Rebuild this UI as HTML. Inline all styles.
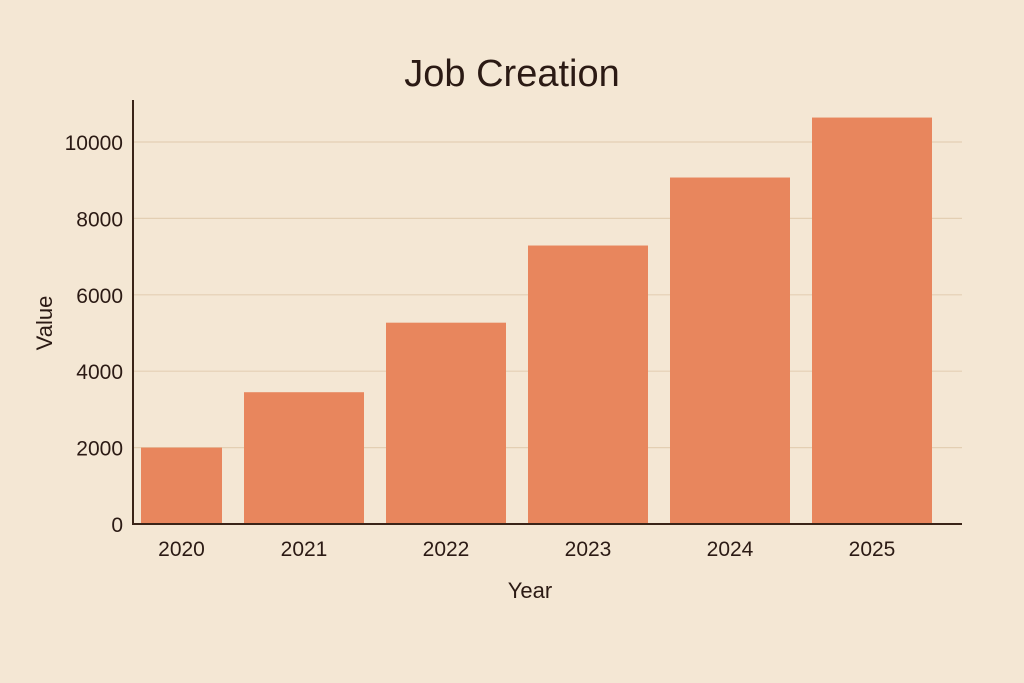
<!DOCTYPE html>
<html><head><meta charset="utf-8"><style>
html,body{margin:0;padding:0;background:#f4e7d4;}
svg{display:block;font-family:"Liberation Sans","DejaVu Sans",sans-serif;}
</style></head><body>
<svg id="chart" width="1024" height="683" viewBox="0 0 1024 683" xmlns="http://www.w3.org/2000/svg">
<rect x="0" y="0" width="1024" height="683" fill="#f4e7d4"/>
<text x="512" y="86" text-anchor="middle" font-size="38" fill="#2b1a14">Job Creation</text>
<g id="grid"></g>
<g id="bars"></g>
<g id="yticks"></g>
<g id="xticks"></g>
<line x1="133" y1="100" x2="133" y2="525" stroke="#3a2418" stroke-width="2"/>
<line x1="132" y1="524" x2="962" y2="524" stroke="#3a2418" stroke-width="2"/>
<text transform="translate(52,323) rotate(-90)" text-anchor="middle" font-size="22" fill="#2b1a14">Value</text>
<text x="530" y="598" text-anchor="middle" font-size="22" fill="#2b1a14">Year</text>
</svg>
<script>
const categories = ["2020","2021","2022","2023","2024","2025"];
const values = [2000, 3450, 5270, 7290, 9070, 10640];
const yTicks = [0, 2000, 4000, 6000, 8000, 10000];
const NS = "http://www.w3.org/2000/svg";
function yScale(v){ return 524 - v * (382 / 10000); }
function xCenter(i){ return 304 + (i - 1) * 142; }
const barW = 120;
const grid = document.getElementById("grid");
const yt = document.getElementById("yticks");
yTicks.forEach(t => {
  const y = yScale(t);
  if (t > 0) {
    const l = document.createElementNS(NS, "line");
    
    
    l.setAttribute("x1", 134); l.setAttribute("x2", 962);
    l.setAttribute("y1", y); l.setAttribute("y2", y);
    l.setAttribute("stroke", "#e3cfb3"); l.setAttribute("stroke-width", "1.2");
    grid.appendChild(l);
  }
  const tx = document.createElementNS(NS, "text");
  
  
  tx.setAttribute("x", 123); tx.setAttribute("y", y + 8);
  tx.setAttribute("text-anchor", "end"); tx.setAttribute("font-size", "21");
  tx.setAttribute("fill", "#2b1a14");
  tx.textContent = t;
  yt.appendChild(tx);
});
const bars = document.getElementById("bars");
const xt = document.getElementById("xticks");
categories.forEach((c, i) => {
  const cx = xCenter(i);
  let x0 = cx - barW / 2, x1 = cx + barW / 2;
  if (x0 < 141) x0 = 141;
  const y = yScale(values[i]);
  const r = document.createElementNS(NS, "rect");
  
  
  r.setAttribute("x", x0); r.setAttribute("y", y);
  r.setAttribute("width", x1 - x0); r.setAttribute("height", 524 - y);
  r.setAttribute("fill", "#e8865d");
  bars.appendChild(r);
  const tx = document.createElementNS(NS, "text");
  
  
  tx.setAttribute("x", (x0 + x1) / 2); tx.setAttribute("y", 556);
  tx.setAttribute("text-anchor", "middle"); tx.setAttribute("font-size", "21");
  tx.setAttribute("fill", "#2b1a14");
  tx.textContent = c;
  xt.appendChild(tx);
});
</script>
</body></html>
